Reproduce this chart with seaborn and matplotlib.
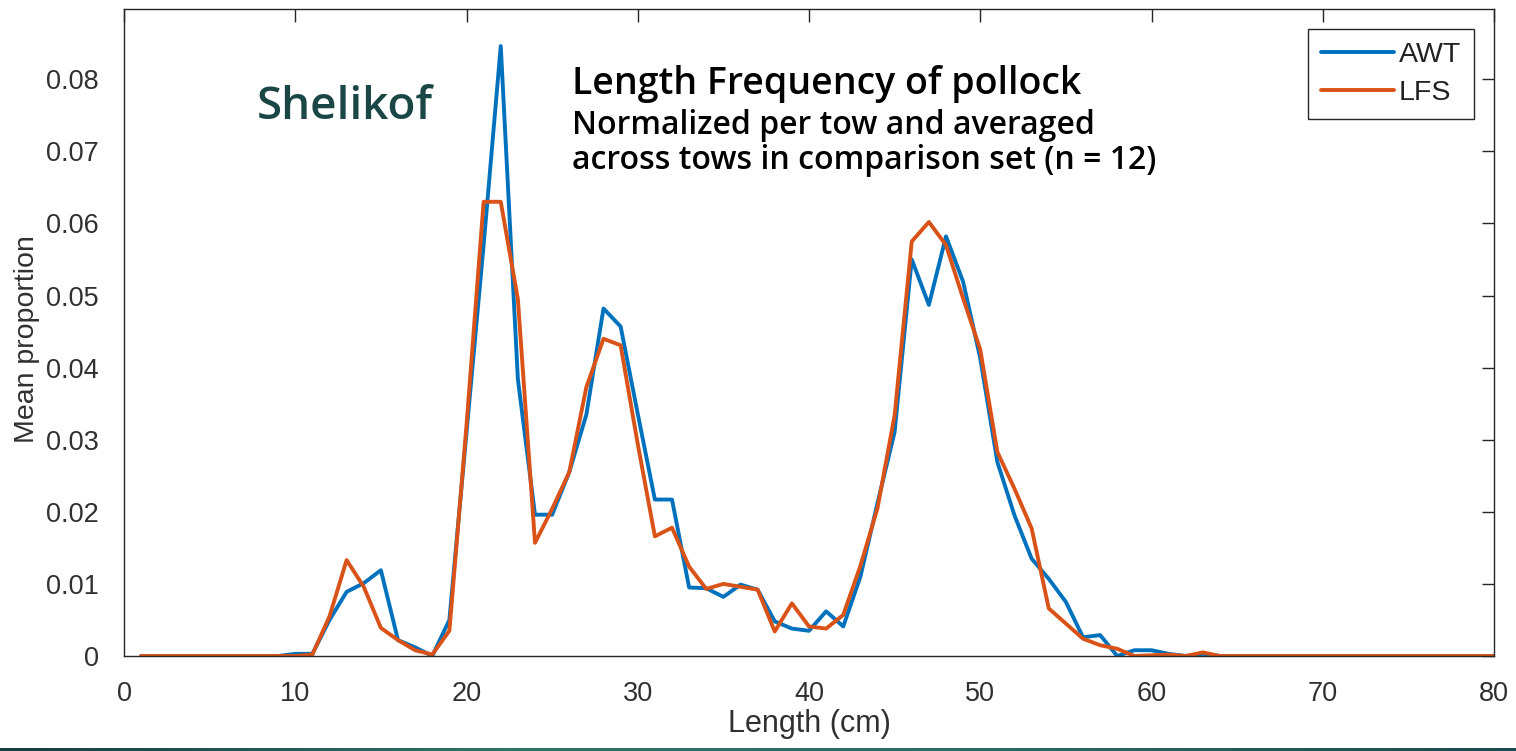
import numpy as np
import pandas as pd
import matplotlib
matplotlib.use("Agg")
import matplotlib.pyplot as plt
import seaborn as sns
from matplotlib.colors import LinearSegmentedColormap

# ---- data ----
length_cm = list(range(1, 81))
awt = [0, 0, 0, 0, 0, 0, 0, 0, 0, 0.0003,
       0.0003, 0.0050, 0.0089, 0.0101, 0.0119, 0.0022, 0.0012, 0.0000, 0.0050, 0.0310,
       0.0570, 0.0846, 0.0384, 0.0196, 0.0196, 0.0255, 0.0335, 0.0482, 0.0457, 0.0336,
       0.0217, 0.0217, 0.0095, 0.0094, 0.0082, 0.0099, 0.0092, 0.0048, 0.0038, 0.0035,
       0.0062, 0.0041, 0.0110, 0.0212, 0.0311, 0.0550, 0.0487, 0.0582, 0.0519, 0.0413,
       0.0269, 0.0195, 0.0135, 0.0107, 0.0075, 0.0026, 0.0029, 0.0000, 0.0008, 0.0008,
       0.0003, 0.0000, 0.0003, 0, 0, 0, 0, 0, 0, 0,
       0, 0, 0, 0, 0, 0, 0, 0, 0, 0]
lfs = [0, 0, 0, 0, 0, 0, 0, 0, 0, 0,
       0.0002, 0.0055, 0.0133, 0.0096, 0.0039, 0.0022, 0.0008, 0.0002, 0.0035, 0.0320,
       0.0630, 0.0630, 0.0495, 0.0157, 0.0204, 0.0255, 0.0373, 0.0440, 0.0431, 0.0294,
       0.0166, 0.0178, 0.0124, 0.0093, 0.0100, 0.0096, 0.0092, 0.0034, 0.0073, 0.0041,
       0.0038, 0.0057, 0.0125, 0.0205, 0.0334, 0.0575, 0.0602, 0.0570, 0.0496, 0.0425,
       0.0283, 0.0232, 0.0177, 0.0066, 0.0045, 0.0024, 0.0015, 0.0010, 0.0000, 0.0001,
       0.0002, 0.0000, 0.0005, 0, 0, 0, 0, 0, 0, 0,
       0, 0, 0, 0, 0, 0, 0, 0, 0, 0]
series_names = ["AWT", "LFS"]
x_ticks = [0, 10, 20, 30, 40, 50, 60, 70, 80]
y_ticks = [0, 0.01, 0.02, 0.03, 0.04, 0.05, 0.06, 0.07, 0.08]
y_tick_labels = ["0", "0.01", "0.02", "0.03", "0.04", "0.05", "0.06", "0.07", "0.08"]

df = pd.DataFrame({
    "Length": length_cm * 2,
    "Mean proportion": awt + lfs,
    "Series": [series_names[0]] * len(length_cm) + [series_names[1]] * len(length_cm),
})

sns.set_theme(style="white")
plt.rcParams["font.family"] = ["Liberation Sans", "DejaVu Sans"]

fig = plt.figure(figsize=(15.16, 7.51), dpi=100)
fig.patch.set_facecolor("white")
ax = fig.add_axes([124 / 1516, 1 - 656 / 751, (1494 - 124) / 1516, (656 - 9.3) / 751])

palette = {"AWT": "#0072BD", "LFS": "#D95319"}
sns.lineplot(data=df, x="Length", y="Mean proportion", hue="Series",
             palette=palette, linewidth=2.8, ax=ax, legend=True)

ax.set_xlim(0, 80)
ax.set_ylim(0, 0.0897)
ax.set_xticks(x_ticks)
ax.set_xticklabels([str(t) for t in x_ticks])
ax.set_yticks(y_ticks)
ax.set_yticklabels(y_tick_labels)

axcol = "#262626"
for s in ax.spines.values():
    s.set_visible(True)
    s.set_color(axcol)
    s.set_linewidth(1.0)
ax.tick_params(direction="in", length=9, width=1.0, colors=axcol,
               top=True, right=True, labelsize=19.5, pad=18)
for lab in ax.get_xticklabels() + ax.get_yticklabels():
    lab.set_color("#303030")

ax.set_xlabel("Length (cm)", fontsize=22, color="#303030")
ax.set_ylabel("Mean proportion", fontsize=20.5, color="#303030")
ax.xaxis.set_label_coords(0.5, -0.082)
ax.yaxis.set_label_coords(-0.0615, 0.49)

leg = ax.legend(loc="upper right", fontsize=20.5, frameon=True, fancybox=False,
                framealpha=1, edgecolor=axcol, handlelength=2.55,
                handletextpad=0.18, labelspacing=0.42, borderaxespad=0.7,
                borderpad=0.45)
leg.get_frame().set_linewidth(1.0)
for t in leg.get_texts():
    t.set_color("#222222")

# annotations
ann_font = ["Open Sans", "DejaVu Sans"]
fig.text(257 / 1516, 1 - 119 / 751, "Shelikof", fontsize=33, color="#1b4646",
         family=ann_font, weight="semibold", ha="left", va="baseline")
fig.text(572 / 1516, 1 - 94 / 751, "Length Frequency of pollock", fontsize=27,
         color="black", family=ann_font, weight="semibold", ha="left", va="baseline")
fig.text(572 / 1516, 1 - 134 / 751, "Normalized per tow and averaged", fontsize=23,
         color="black", family=ann_font, weight="semibold", ha="left", va="baseline")
fig.text(572 / 1516, 1 - 169 / 751, "across tows in comparison set (n = 12)", fontsize=23,
         color="black", family=ann_font, weight="semibold", ha="left", va="baseline")

# bottom decorative bar
bar_ax = fig.add_axes([0, 0, 1, 3 / 751])
cmap = LinearSegmentedColormap.from_list("bar", ["#173c42", "#2f7468", "#2a6a66", "#1c4a50"])
bar_ax.imshow(np.linspace(0, 1, 256)[None, :], aspect="auto", cmap=cmap)
bar_ax.axis("off")

fig.savefig("out.png", dpi=100)
